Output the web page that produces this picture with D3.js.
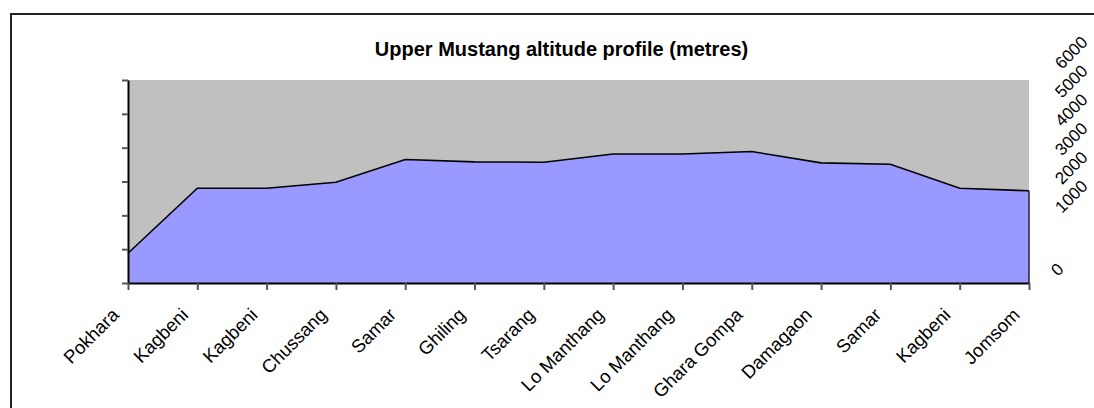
<!DOCTYPE html>
<html>
<head>
<meta charset="utf-8">
<script src="https://cdn.jsdelivr.net/npm/d3@7"></script>
<style>
  body { margin: 0; background: #fff; }
  text { font-family: Arial, "Liberation Sans", sans-serif; fill: #000; }
</style>
</head>
<body>
<div id="root"></div>
<script>
var categories = ['Pokhara', 'Kagbeni', 'Kagbeni', 'Chussang', 'Samar', 'Ghiling', 'Tsarang',
  'Lo Manthang', 'Lo Manthang', 'Ghara Gompa', 'Damagaon', 'Samar', 'Kagbeni', 'Jomsom'];
var altitudes = [880, 2800, 2800, 2980, 3650, 3580, 3570, 3815, 3815, 3885, 3550, 3510, 2800, 2725];
var yTicks = [0, 1000, 2000, 3000, 4000, 5000, 6000];
var title = 'Upper Mustang altitude profile (metres)';

var w = 1094,
    h = 408;

var plotLeft = 128, plotRight = 1029, plotTop = 80, plotBottom = 283;

var svg = d3.select('#root')
  .append('svg')
    .attr('width', w)
    .attr('height', h);

// outer chart border
svg.append('rect')
    .attr('x', 11)
    .attr('y', 14)
    .attr('width', w + 20)
    .attr('height', h + 20)
    .attr('fill', '#fff')
    .attr('stroke', '#222')
    .attr('stroke-width', 2);

var x = d3.scalePoint()
    .domain(d3.range(categories.length))
    .range([plotLeft, plotRight]);

var y = d3.scaleLinear()
    .domain([0, 6000])
    .range([plotBottom, plotTop]);

// plot background
svg.append('rect')
    .attr('x', plotLeft)
    .attr('y', plotTop)
    .attr('width', plotRight - plotLeft)
    .attr('height', plotBottom - plotTop)
    .attr('fill', '#c0c0c0');

var area = d3.area()
    .x(function (d, i) { return x(i); })
    .y0(y(0))
    .y1(function (d) { return y(d); });

var line = d3.line()
    .x(function (d, i) { return x(i); })
    .y(function (d) { return y(d); });

svg.append('path')
    .datum(altitudes)
    .attr('d', area)
    .attr('fill', '#9999ff');

svg.append('path')
    .datum(altitudes)
    .attr('d', line)
    .attr('fill', 'none')
    .attr('stroke', '#000')
    .attr('stroke-width', 1.6);

// right edge of the area
svg.append('line')
    .attr('x1', plotRight).attr('x2', plotRight)
    .attr('y1', y(altitudes[altitudes.length - 1]))
    .attr('y2', plotBottom)
    .attr('stroke', '#222')
    .attr('stroke-width', 1.5);

// left axis, ticks only
var yAxis = svg.append('g')
    .attr('transform', 'translate(' + plotLeft + ',0)')
    .call(d3.axisLeft(y).tickValues(yTicks).tickSize(6).tickSizeOuter(0).tickFormat(''));
yAxis.select('.domain').attr('stroke', '#000').attr('stroke-width', 2);
yAxis.selectAll('.tick line').attr('stroke', '#555').attr('stroke-width', 2);

// bottom axis
var xAxis = svg.append('g')
    .attr('transform', 'translate(0,' + plotBottom + ')')
    .call(d3.axisBottom(x).tickSize(7).tickSizeOuter(0).tickFormat(''));
xAxis.select('.domain').attr('stroke', '#000').attr('stroke-width', 2);
xAxis.selectAll('.tick line').attr('stroke', '#555').attr('stroke-width', 2);

svg.append('g')
  .selectAll('text')
    .data(categories)
  .enter().append('text')
    .attr('text-anchor', 'end')
    .attr('font-size', 18.5)
    .attr('transform', function (d, i) {
      return 'translate(' + (x(i) - 8) + ',' + 316 + ') rotate(-45)';
    })
    .text(function (d) { return d; });

// value labels drawn on the right, rotated
var labelY = d3.scaleLinear()
    .domain([0, 1000, 6000])
    .range([277, 214, 70]);

svg.append('g')
  .selectAll('text')
    .data(yTicks)
  .enter().append('text')
    .attr('font-size', 17)
    .attr('transform', function (d) {
      return 'translate(' + (d === 0 ? 1058 : 1062) + ',' + labelY(d) + ') rotate(-45)';
    })
    .text(function (d) { return d; });

svg.append('text')
    .attr('x', (375 + 748) / 2)
    .attr('y', 56)
    .attr('text-anchor', 'middle')
    .attr('font-size', 20)
    .attr('font-weight', 'bold')
    .text(title);
</script>
</body>
</html>
